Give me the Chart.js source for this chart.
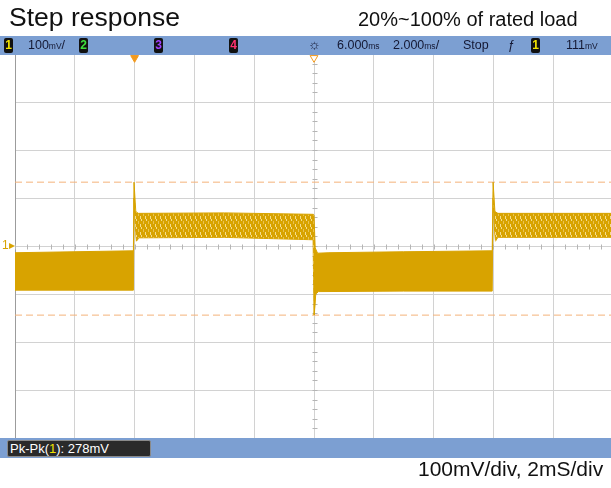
<!DOCTYPE html>
<html>
<head>
<meta charset="utf-8">
<script src="https://cdn.jsdelivr.net/npm/chart.js@4.4.0/dist/chart.umd.min.js"></script>
<style>
  body { margin: 0; width: 611px; height: 488px; overflow: hidden; background: #fff; font-family: "Liberation Sans", Arial, sans-serif; }
  #wrap { position: relative; width: 611px; height: 488px; overflow: hidden; }
  #scope { position: absolute; left: 0; top: 0; }
  .abs { position: absolute; white-space: nowrap; }
  #title { left: 9px; top: 2px; font-size: 26.5px; color: #111; }
  #load { left: 358px; top: 8px; font-size: 20px; color: #111; }
  #topbar { left: 0; top: 36px; width: 611px; height: 19px; background: #7c9fd2; }
  #botbar { left: 0; top: 438px; width: 611px; height: 20px; background: #7c9fd2; }
  #scale { left: 418px; top: 457px; font-size: 21px; color: #111; }
  .bt { position: absolute; top: 2px; font-size: 12.5px; color: #141833; white-space: nowrap; }
  .u { font-size: 8.5px; }
  .ch { position: absolute; top: 2px; width: 9px; height: 15px; background: #111; border-radius: 2px; font-size: 12px; font-weight: bold; text-align: center; line-height: 15px; }
  #pk { left: 7px; top: 440px; width: 144px; height: 17px; background: #2a2a2a; border: 1px solid #8a8a8a; border-radius: 2px; color: #fff; font-size: 13px; line-height: 15px; padding-left: 2px; box-sizing: border-box; }
  #gnd { left: 2px; top: 238px; font-size: 12px; color: #d8a300; }
</style>
</head>
<body>
<div id="wrap">
  <canvas id="scope" width="620" height="488"></canvas>
  <div class="abs" id="title">Step response</div>
  <div class="abs" id="load">20%~100% of rated load</div>
  <div class="abs" id="topbar">
    <span class="ch" style="left:4px;color:#f2e400">1</span>
    <span class="bt" style="left:28px">100<span class="u">mV</span>/</span>
    <span class="ch" style="left:79px;color:#3ee03e">2</span>
    <span class="ch" style="left:154px;color:#a040ff">3</span>
    <span class="ch" style="left:229px;color:#ff3070">4</span>
    <span class="bt" style="left:308px;font-size:14px;top:0">&#9788;</span>
    <span class="bt" style="left:337px">6.000<span class="u">ms</span></span>
    <span class="bt" style="left:393px">2.000<span class="u">ms</span>/</span>
    <span class="bt" style="left:463px">Stop</span>
    <span class="bt" style="left:508px">&#402;</span>
    <span class="ch" style="left:531px;color:#f2e400">1</span>
    <span class="bt" style="left:566px">111<span class="u">mV</span></span>
  </div>
  <div class="abs" id="botbar"></div>
  <div class="abs" id="pk">Pk-Pk(<span style="color:#f2e400">1</span>): 278mV</div>
  <div class="abs" id="gnd">1&#9656;</div>
  <div class="abs" id="scale">100mV/div, 2mS/div</div>
</div>
<script>
// time in ms relative to trigger, voltage in mV (AC ripple around 0)
const upperTime = [-4, -0.04, -0.02, 0.04, 0.12, 3, 5.98, 6.0, 6.04, 6.12, 6.5, 9, 11.96, 11.99, 12.05, 12.15, 16];
const upperVolt = [-14, -10, 133, 72, 68, 69, 66, 64, -4, -15, -14, -12, -10, 133, 72, 68, 68];
const lowerTime = [-4, -0.04, -0.02, 0.03, 0.06, 0.15, 3, 5.97, 6.0, 6.03, 6.06, 6.15, 9, 11.96, 11.99, 12.04, 12.07, 12.15, 16];
const lowerVolt = [-92, -92, 100, 30, 10, 17, 18, 13, -144, -144, -100, -95, -94, -94, 100, 30, 10, 18, 18];
const cursorLevels = [133, -144];
const markerTimes = [0, 6];   // trigger point, time reference
const timeRange = [-4, 16];
const voltRange = [-400, 400];

const gold = '#d8a300';
const zip = (t, v) => t.map((x, i) => ({ x, y: v[i] }));

// ripple texture for the full-load band
function ripplePattern() {
    const c = document.createElement('canvas');
    c.width = 5; c.height = 8;
    const g = c.getContext('2d');
    g.fillStyle = gold;
    g.fillRect(0, 0, 5, 8);
    g.fillStyle = '#f3dc8c';
    g.fillRect(0, 0, 1, 3);
    g.fillRect(1, 3, 1, 2);
    g.fillStyle = '#e8c353';
    g.fillRect(3, 5, 1, 3);
    return g.createPattern(c, 'repeat');
}
const highFill = ripplePattern();

const centerTicks = {
    id: 'centerTicks',
    beforeDatasetsDraw(chart) {
        const { ctx, scales: { x, y } } = chart;
        const cx = Math.round(x.getPixelForValue(6)) + 0.5;
        const cy = Math.round(y.getPixelForValue(0)) + 0.5;
        ctx.save();
        ctx.strokeStyle = '#b5b5b5';
        ctx.lineWidth = 1;
        ctx.beginPath();
        for (let t = timeRange[0]; t <= timeRange[1]; t += 0.4) {
            const px = Math.round(x.getPixelForValue(t)) + 0.5;
            ctx.moveTo(px, cy - 2); ctx.lineTo(px, cy + 3);
        }
        for (let v = voltRange[0]; v <= voltRange[1]; v += 20) {
            const py = Math.round(y.getPixelForValue(v)) + 0.5;
            ctx.moveTo(cx - 2, py); ctx.lineTo(cx + 3, py);
        }
        ctx.stroke();
        ctx.restore();
    }
};

const datasets = [
    {
        label: 'upper', data: zip(upperTime, upperVolt),
        borderColor: gold, borderWidth: 1, pointRadius: 0,
        backgroundColor: gold, fill: '+1',
        segment: {
            backgroundColor: c => (c.p0.parsed.y > 40 && c.p1.parsed.y > 40 ? highFill : gold)
        }
    },
    {
        label: 'lower', data: zip(lowerTime, lowerVolt),
        borderColor: gold, borderWidth: 1, pointRadius: 0, fill: false
    },
    ...cursorLevels.map(v => ({
        label: 'cursor', data: [{ x: timeRange[0], y: v }, { x: timeRange[1], y: v }],
        borderColor: '#f4b27a', borderWidth: 1, borderDash: [7, 4], pointRadius: 0, fill: false
    })),
    {
        type: 'scatter', label: 'markers',
        data: markerTimes.map(t => ({ x: t, y: 392 })),
        pointStyle: 'triangle', rotation: 180, pointRadius: 4.5,
        backgroundColor: ['#f39a1e', '#ffffff'], borderColor: '#f39a1e', borderWidth: 1
    }
];

new Chart(document.getElementById('scope'), {
    type: 'line',
    data: { datasets },
    options: {
        responsive: false,
        animation: false,
        layout: { padding: { left: 15, right: 7, top: 54, bottom: 50 } },
        plugins: { legend: { display: false }, tooltip: { enabled: false } },
        scales: {
            x: {
                type: 'linear', min: timeRange[0], max: timeRange[1],
                ticks: { display: false, stepSize: 2 },
                grid: { color: '#d2d2d2', drawTicks: false },
                border: { color: '#9c9c9c' },
                afterFit: s => { s.height = 0; }
            },
            y: {
                min: voltRange[0], max: voltRange[1],
                ticks: { display: false, stepSize: 100 },
                grid: { color: '#d2d2d2', drawTicks: false },
                border: { color: '#9c9c9c' },
                afterFit: s => { s.width = 0; }
            }
        }
    },
    plugins: [centerTicks]
});
</script>
</body>
</html>
